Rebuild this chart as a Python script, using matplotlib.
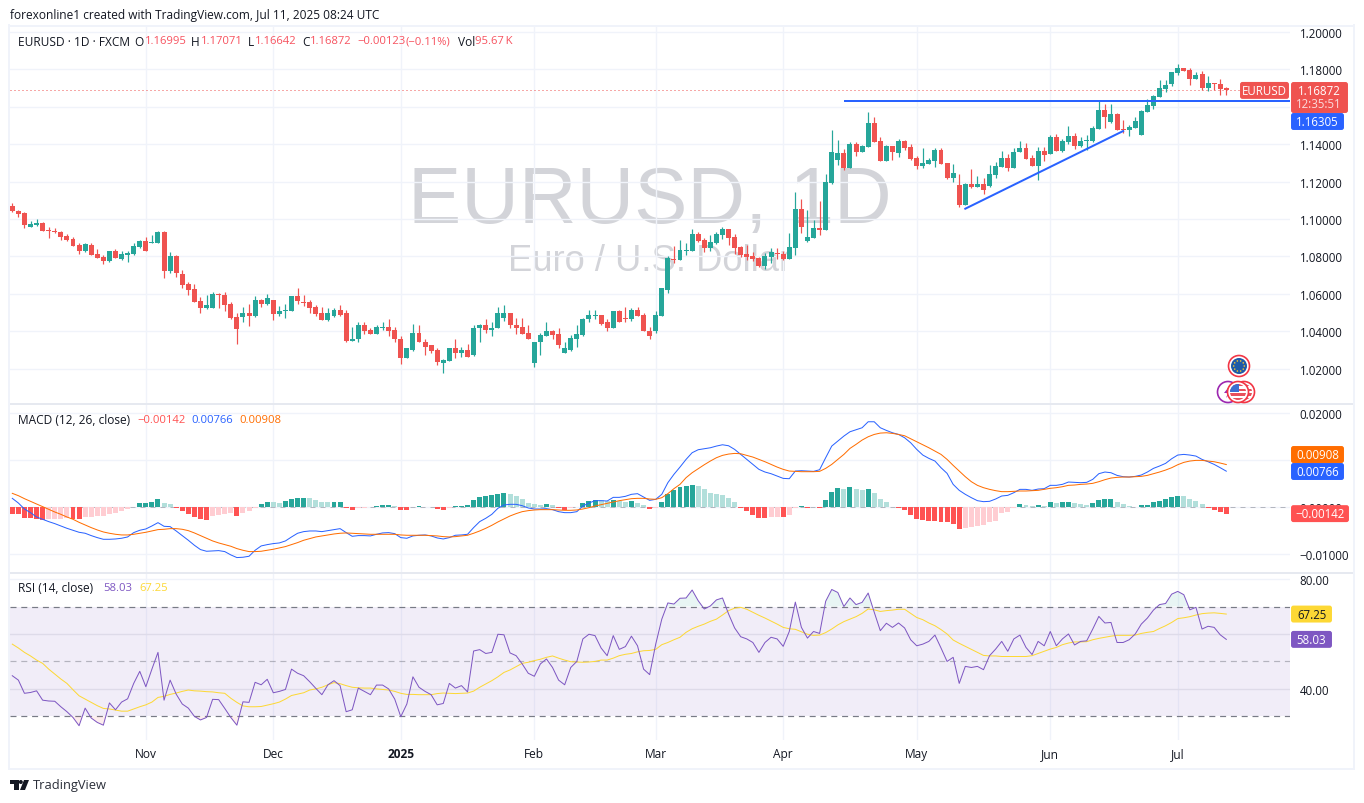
import numpy as np
import matplotlib
matplotlib.use("Agg")
import matplotlib.pyplot as plt
from matplotlib.patches import Circle, FancyBboxPatch, Polygon, Rectangle

plt.rcParams['font.family'] = ['Open Sans', 'DejaVu Sans']

# ---------- data ----------
month_idx = [22, 43, 64, 86, 106, 127, 149, 171, 192]
month_lbl = ['Nov', 'Dec', '2025', 'Feb', 'Mar', 'Apr', 'May', 'Jun', 'Jul']
price_ticks = [1.02, 1.04, 1.06, 1.08, 1.10, 1.12, 1.14, 1.16, 1.18, 1.20]

direction = ("RRRGGRRRRR" "RRGRRRGRGG" "GGRGGRGRRR" "RRGGRRRRGR" "GRGRGGGRRR"
             "RRGGRRGGRR" "GGRRRGGRRR" "RGGRGRGGRG" "GGRRRRGGGR" "RGGGGGGRRG"
             "RRGRRRGGGR" "GGGRRGGGRR" "RRRRGGRRGG" "RGGRGGGRGR" "GGRRGRGRRR"
             "GGGRRGRGRG" "RGGGRGGRRG" "RGRGGRGGGG" "RGRRGGGGGG" "GGGRRGRGRR" "R")

highs = [
1.1087,1.1048,1.1039,1.0991,1.1002,1.0986,1.0959,1.0954,1.0938,1.0922,
1.0905,1.0873,1.0873,1.0873,1.0841,1.0809,1.0831,1.0841,1.0831,1.0831,
1.0873,1.0889,1.0905,1.0916,1.0938,1.0938,1.0825,1.0809,1.0729,1.0665,
1.0654,1.0585,1.0595,1.0611,1.0606,1.0611,1.0558,1.0499,1.0531,1.0547,
1.0590,1.0574,1.0601,1.0569,1.0536,1.0547,1.0590,1.0633,1.0595,1.0569,
1.0542,1.0531,1.0526,1.0526,1.0538,1.0516,1.0425,1.0452,1.0447,1.0415,
1.0436,1.0447,1.0463,1.0425,1.0377,1.0313,1.0441,1.0436,1.0361,1.0324,
1.0313,1.0254,1.0313,1.0356,1.0318,1.0334,1.0436,1.0441,1.0463,1.0447,
1.0527,1.0538,1.0495,1.0473,1.0473,1.0436,1.0345,1.0393,1.0447,1.0409,
1.0415,1.0340,1.0382,1.0436,1.0473,1.0516,1.0511,1.0489,1.0463,1.0506,
1.0511,1.0532,1.0522,1.0532,1.0495,1.0425,1.0506,1.0629,1.0800,1.0857,
1.0889,1.0873,1.0948,1.0932,1.0900,1.0916,1.0932,1.0959,1.0948,1.0922,
1.0857,1.0863,1.0825,1.0799,1.0820,1.0847,1.0847,1.0831,1.0927,1.1146,
1.1109,1.1050,1.0996,1.1098,1.1242,1.1478,1.1424,1.1376,1.1414,1.1414,
1.1398,1.1574,1.1547,1.1440,1.1398,1.1392,1.1430,1.1424,1.1403,1.1339,
1.1382,1.1328,1.1382,1.1382,1.1301,1.1296,1.1240,1.1192,1.1267,1.1229,
1.1219,1.1288,1.1304,1.1363,1.1347,1.1379,1.1417,1.1406,1.1342,1.1385,
1.1385,1.1449,1.1454,1.1427,1.1497,1.1459,1.1438,1.1449,1.1497,1.1631,
1.1615,1.1615,1.1566,1.1529,1.1502,1.1545,1.1582,1.1641,1.1663,1.1743,
1.1743,1.1786,1.1829,1.1807,1.1807,1.1786,1.1791,1.1764,1.1727,1.1748,
1.17071]

body_high = [
1.1071,1.1045,1.1034,1.0975,1.0980,1.0980,1.0943,1.0938,1.0932,1.0911,
1.0895,1.0863,1.0868,1.0863,1.0815,1.0799,1.0831,1.0831,1.0815,1.0820,
1.0857,1.0884,1.0884,1.0879,1.0932,1.0932,1.0804,1.0804,1.0708,1.0654,
1.0627,1.0563,1.0542,1.0601,1.0601,1.0595,1.0547,1.0478,1.0499,1.0499,
1.0569,1.0569,1.0579,1.0569,1.0510,1.0515,1.0590,1.0590,1.0558,1.0558,
1.0531,1.0499,1.0499,1.0515,1.0516,1.0495,1.0361,1.0431,1.0431,1.0409,
1.0425,1.0425,1.0425,1.0409,1.0361,1.0313,1.0393,1.0393,1.0345,1.0324,
1.0302,1.0249,1.0313,1.0313,1.0302,1.0302,1.0420,1.0431,1.0431,1.0420,
1.0495,1.0495,1.0495,1.0436,1.0425,1.0393,1.0345,1.0382,1.0404,1.0404,
1.0388,1.0308,1.0366,1.0388,1.0468,1.0489,1.0489,1.0489,1.0447,1.0506,
1.0506,1.0473,1.0516,1.0516,1.0489,1.0404,1.0489,1.0629,1.0789,1.0788,
1.0836,1.0836,1.0922,1.0922,1.0889,1.0879,1.0922,1.0948,1.0948,1.0905,
1.0852,1.0815,1.0804,1.0793,1.0804,1.0825,1.0820,1.0815,1.0852,1.1055,
1.1055,1.0905,1.0954,1.0954,1.1200,1.1360,1.1355,1.1355,1.1403,1.1403,
1.1392,1.1515,1.1515,1.1419,1.1392,1.1392,1.1419,1.1419,1.1387,1.1328,
1.1301,1.1317,1.1371,1.1371,1.1301,1.1248,1.1181,1.1187,1.1187,1.1187,
1.1187,1.1240,1.1283,1.1326,1.1326,1.1358,1.1379,1.1379,1.1326,1.1363,
1.1363,1.1438,1.1438,1.1417,1.1443,1.1443,1.1417,1.1422,1.1486,1.1582,
1.1582,1.1561,1.1561,1.1481,1.1492,1.1524,1.1577,1.1609,1.1657,1.1700,
1.1716,1.1786,1.1807,1.1807,1.1796,1.1770,1.1775,1.1727,1.1727,1.1722,
1.16995]

body_low = [
1.1041,1.1029,1.0970,1.0959,1.0970,1.0938,1.0938,1.0932,1.0905,1.0889,
1.0857,1.0831,1.0831,1.0809,1.0793,1.0777,1.0777,1.0793,1.0788,1.0809,
1.0815,1.0852,1.0831,1.0873,1.0873,1.0724,1.0724,1.0713,1.0649,1.0622,
1.0558,1.0526,1.0526,1.0526,1.0595,1.0542,1.0472,1.0413,1.0478,1.0483,
1.0483,1.0547,1.0547,1.0494,1.0494,1.0510,1.0510,1.0563,1.0553,1.0526,
1.0494,1.0462,1.0462,1.0483,1.0489,1.0350,1.0350,1.0356,1.0404,1.0388,
1.0388,1.0420,1.0404,1.0356,1.0259,1.0259,1.0302,1.0340,1.0318,1.0297,
1.0238,1.0233,1.0243,1.0286,1.0286,1.0265,1.0275,1.0415,1.0409,1.0409,
1.0415,1.0473,1.0431,1.0420,1.0388,1.0356,1.0233,1.0340,1.0377,1.0382,
1.0324,1.0286,1.0302,1.0361,1.0382,1.0463,1.0484,1.0441,1.0420,1.0420,
1.0452,1.0468,1.0468,1.0484,1.0399,1.0372,1.0399,1.0484,1.0623,1.0782,
1.0782,1.0831,1.0831,1.0884,1.0847,1.0847,1.0873,1.0916,1.0900,1.0847,
1.0809,1.0799,1.0788,1.0750,1.0750,1.0799,1.0815,1.0788,1.0788,1.0847,
1.0959,1.0884,1.0900,1.0943,1.0943,1.1194,1.1317,1.1275,1.1275,1.1360,
1.1360,1.1387,1.1414,1.1312,1.1312,1.1360,1.1355,1.1382,1.1323,1.1285,
1.1285,1.1296,1.1312,1.1296,1.1221,1.1221,1.1074,1.1074,1.1171,1.1171,
1.1155,1.1176,1.1235,1.1278,1.1272,1.1272,1.1358,1.1320,1.1283,1.1283,
1.1342,1.1347,1.1363,1.1363,1.1411,1.1390,1.1390,1.1417,1.1417,1.1481,
1.1545,1.1518,1.1475,1.1475,1.1475,1.1486,1.1449,1.1572,1.1604,1.1652,
1.1695,1.1722,1.1780,1.1791,1.1748,1.1748,1.1700,1.1700,1.1722,1.1695,
1.16872]

lows = [
1.1036,1.1012,1.0954,1.0959,1.0964,1.0938,1.0900,1.0927,1.0889,1.0884,
1.0857,1.0815,1.0825,1.0809,1.0793,1.0761,1.0772,1.0793,1.0782,1.0772,
1.0809,1.0847,1.0831,1.0873,1.0873,1.0686,1.0713,1.0692,1.0633,1.0595,
1.0558,1.0499,1.0520,1.0526,1.0526,1.0510,1.0467,1.0333,1.0451,1.0429,
1.0478,1.0531,1.0542,1.0462,1.0483,1.0472,1.0510,1.0547,1.0536,1.0499,
1.0483,1.0462,1.0456,1.0478,1.0484,1.0345,1.0350,1.0345,1.0388,1.0388,
1.0388,1.0409,1.0377,1.0345,1.0227,1.0259,1.0297,1.0340,1.0275,1.0286,
1.0217,1.0179,1.0243,1.0259,1.0265,1.0265,1.0270,1.0345,1.0393,1.0377,
1.0415,1.0457,1.0415,1.0388,1.0388,1.0356,1.0211,1.0275,1.0372,1.0356,
1.0308,1.0286,1.0297,1.0318,1.0377,1.0452,1.0468,1.0436,1.0404,1.0420,
1.0452,1.0452,1.0457,1.0479,1.0399,1.0361,1.0393,1.0479,1.0607,1.0766,
1.0782,1.0809,1.0831,1.0879,1.0825,1.0831,1.0868,1.0895,1.0863,1.0815,
1.0799,1.0782,1.0777,1.0745,1.0734,1.0766,1.0788,1.0782,1.0788,1.0809,
1.0927,1.0879,1.0900,1.0916,1.0943,1.1189,1.1291,1.1264,1.1275,1.1339,
1.1360,1.1387,1.1414,1.1312,1.1312,1.1317,1.1333,1.1371,1.1317,1.1269,
1.1275,1.1296,1.1280,1.1296,1.1216,1.1200,1.1064,1.1074,1.1165,1.1171,
1.1133,1.1171,1.1219,1.1278,1.1256,1.1272,1.1358,1.1320,1.1283,1.1208,
1.1310,1.1347,1.1363,1.1358,1.1401,1.1374,1.1385,1.1369,1.1411,1.1481,
1.1486,1.1513,1.1475,1.1459,1.1443,1.1486,1.1449,1.1572,1.1588,1.1652,
1.1679,1.1711,1.1770,1.1791,1.1716,1.1748,1.1689,1.1684,1.1689,1.1663,
1.16642]

macd_e5 = [
185,85,-43,-121,-214,-263,-313,-356,-406,-456,
-498,-541,-562,-612,-655,-691,-691,-684,-669,-641,
-548,-498,-470,-406,-335,-413,-420,-513,-612,-712,
-819,-911,-947,-940,-933,-954,-1025,-1082,-1075,-1054,
-926,-833,-805,-783,-769,-726,-641,-562,-527,-513,
-513,-527,-506,-484,-463,-548,-627,-612,-612,-619,
-584,-555,-548,-570,-655,-669,-619,-605,-598,-619,
-662,-684,-655,-605,-598,-584,-441,-313,-242,-157,
-28,43,57,57,28,-21,-43,-43,-36,-57,
-100,-121,-121,-100,21,85,135,135,128,206,
206,228,271,285,214,142,164,271,520,698,
854,1018,1161,1225,1246,1267,1303,1331,1310,1232,
1125,1018,911,805,748,712,662,612,605,769,
776,769,762,797,1054,1303,1410,1517,1609,1652,
1695,1823,1823,1695,1638,1588,1552,1481,1374,1232,
1111,1040,983,840,719,484,356,271,199,135,
114,121,171,235,249,306,377,377,356,384,
392,463,463,484,534,527,520,527,591,712,
748,733,676,648,641,655,684,748,826,876,
933,1032,1111,1125,1111,1089,1018,968,911,840,
766]

signal_e5 = [
292,242,178,121,64,7,-50,-107,-157,-214,
-263,-328,-384,-441,-491,-534,-562,-584,-598,-598,
-584,-562,-541,-513,-484,-477,-463,-463,-477,-506,
-555,-612,-669,-726,-769,-805,-840,-890,-926,-954,
-954,-947,-926,-904,-876,-847,-805,-762,-712,-676,
-641,-619,-598,-577,-562,-555,-562,-570,-577,-584,
-584,-584,-584,-584,-598,-605,-605,-605,-605,-612,
-619,-634,-641,-634,-619,-605,-562,-513,-456,-392,
-320,-256,-192,-142,-100,-78,-64,-57,-57,-57,
-64,-71,-71,-64,-43,-14,21,50,78,107,
135,157,178,185,185,171,164,199,285,392,
484,627,733,819,904,983,1054,1104,1132,1146,
1139,1104,1068,1018,968,911,854,805,769,762,
755,755,755,762,826,911,1018,1125,1253,1339,
1431,1502,1552,1581,1588,1574,1552,1524,1460,1396,
1331,1267,1196,1125,1018,890,769,648,541,463,
413,377,349,328,328,335,342,342,349,356,
377,399,413,434,463,470,484,491,506,541,
584,619,634,641,641,648,655,676,712,748,
790,840,904,954,983,997,997,983,968,940,
908]

hist_e5 = [
-142,-157,-228,-242,-256,-271,-263,-256,-249,-242,
-249,-256,-214,-206,-199,-192,-142,-135,-85,-50,
7,78,85,114,164,78,57,-28,-85,-142,
-214,-263,-271,-199,-171,-142,-135,-192,-121,-85,
-28,57,114,100,93,121,164,185,192,185,
142,107,100,107,114,-21,-57,-28,-14,-7,
21,36,43,21,-64,-71,-7,14,7,0,
-50,-71,-14,14,28,36,142,221,235,256,
285,306,271,235,164,93,57,36,57,36,
-14,-64,-28,0,85,128,150,142,135,142,
128,114,128,93,43,-50,-28,100,285,356,
427,449,463,441,377,306,285,256,185,107,
-28,-93,-171,-228,-242,-214,-206,-214,-171,-21,
14,-21,0,-28,142,328,413,392,420,392,
363,377,306,164,100,7,-28,-71,-171,-249,
-285,-299,-306,-313,-328,-370,-477,-456,-427,-406,
-384,-313,-299,-121,-100,-28,57,50,21,36,
28,100,85,100,107,78,57,50,78,142,
164,171,100,57,14,-7,36,43,100,128,
164,214,235,228,164,128,57,-28,-71,-100,
-142]

rsi_values = [
44.8,43.2,38.4,38.7,39.3,35.9,35.6,35.5,33.5,31.7,
29.6,26.6,33.0,29.4,27.8,26.8,34.9,32.4,35.2,36.4,
42.0,46.4,40.8,47.2,53.3,35.9,43.2,38.1,34.5,33.0,
30.0,28.7,29.6,36.2,36.1,32.9,29.6,26.8,35.3,35.1,
42.4,41.5,43.5,38.6,39.1,39.8,47.2,45.7,44.8,42.6,
40.2,37.9,41.5,43.0,41.2,31.7,32.4,40.3,39.1,37.9,
41.4,41.4,40.0,36.3,29.9,34.5,44.4,40.6,39.1,37.9,
34.2,34.7,42.0,40.3,41.2,38.9,53.8,54.3,52.9,53.3,
59.9,59.7,53.1,52.1,49.1,45.7,44.6,49.1,50.9,47.8,
43.2,41.5,47.8,50.0,58.2,59.9,59.4,54.9,52.1,59.4,
54.4,55.4,59.2,55.7,47.2,45.2,56.3,65.4,71.3,70.9,
73.0,73.1,76.0,72.1,69.1,70.2,72.4,73.1,67.3,62.2,
59.0,58.2,56.9,53.3,56.9,58.8,58.2,55.5,60.9,71.6,
62.4,58.5,60.9,60.2,71.9,76.2,75.1,70.0,73.1,70.7,
71.5,74.9,67.9,61.2,63.9,62.4,64.0,62.2,57.9,55.7,
56.3,57.3,59.6,54.9,50.0,51.5,42.0,48.2,47.8,48.2,
47.0,52.1,54.5,57.3,53.7,58.2,59.6,55.1,52.5,57.3,
55.7,60.9,55.7,58.2,60.0,56.0,57.3,57.5,61.8,66.4,
64.0,64.2,56.9,56.9,57.9,60.0,63.6,65.8,68.7,70.7,
71.1,74.5,75.5,74.3,68.8,69.7,61.8,62.8,62.4,59.7,
58.03]

rsi_ma_values = [
56.3,54.9,53.3,52.0,50.5,49.3,47.2,45.4,43.6,42.0,
39.7,37.5,36.3,35.1,33.9,32.9,32.7,32.3,31.9,31.9,
32.7,33.5,34.2,35.2,36.9,37.3,38.0,38.5,39.1,39.6,
39.3,39.2,39.0,38.9,38.6,38.4,36.6,35.1,33.8,33.5,
33.5,33.6,34.1,34.6,35.2,36.3,37.6,38.1,38.6,39.6,
40.0,40.6,41.5,42.3,41.9,41.2,40.6,40.4,40.3,40.3,
40.0,39.8,39.6,39.1,38.4,38.0,38.0,37.9,37.9,37.9,
38.3,38.5,38.4,38.3,38.4,38.5,39.2,40.6,41.8,43.0,
44.4,46.0,46.9,48.1,49.3,49.7,50.3,50.8,51.5,52.0,
51.2,50.5,49.9,49.8,49.7,49.8,50.0,50.5,50.5,51.2,
52.1,52.6,52.9,53.5,53.9,54.0,54.4,56.1,56.9,57.9,
58.8,60.6,61.9,62.8,63.6,64.6,65.4,66.9,68.5,69.4,
69.7,69.0,67.9,66.8,65.8,64.7,63.6,62.4,61.9,61.7,
60.8,59.9,59.5,59.6,60.5,61.8,63.3,64.5,65.4,66.3,
67.5,69.1,68.8,68.2,68.5,68.7,69.0,69.0,67.5,66.0,
65.2,64.0,63.0,61.6,60.0,57.8,56.6,55.5,54.4,53.3,
52.2,52.0,52.0,51.8,51.8,51.8,51.8,51.8,52.1,52.9,
53.7,54.5,55.1,56.1,56.7,57.1,57.1,57.2,57.9,58.4,
58.8,59.2,59.5,59.5,59.5,59.6,60.2,60.6,60.9,62.0,
63.0,64.2,65.6,65.9,66.3,66.9,67.4,67.6,67.7,67.5,
67.25]

support_level = 1.16305
support_start = 137
trend_idx = [157, 183]
trend_price = [1.1055, 1.1470]
last_close = 1.16872

# ---------- colours ----------
UP, DOWN = '#26a69a', '#ef5350'
BLUE, ORANGE = '#2962ff', '#ff6d00'
PURPLE, YELLOW = '#7e57c2', '#fdd835'
GRID, FRAME, TXT = '#f0f3fa', '#e6e9f0', '#131722'
RED_TXT = '#f7525f'
PX = 0.72  # one pixel in points at this dpi

# ---------- layout in pixels ----------
W, H = 1364, 804
fig = plt.figure(figsize=(W / 100, H / 100), dpi=100, facecolor='white')


def pane(top, bottom, left=10, right=1290):
    return fig.add_axes([left / W, 1 - bottom / H, (right - left) / W, (bottom - top) / H])


ax_p = pane(27, 405)
ax_m = pane(405, 574)
ax_r = pane(574, 741)

X0, DX = 12.3, 6.07
xlim = ((10 - X0) / DX, (1290 - X0) / DX)
x = np.arange(len(highs))
for a in (ax_p, ax_m, ax_r):
    a.set_xlim(*xlim)
    a.set_xticks(month_idx)
    a.grid(True, color=GRID, lw=1.4 * PX)
    a.set_axisbelow(True)
    a.yaxis.tick_right()
    a.tick_params(axis='y', length=0, pad=7, labelsize=8.3, labelcolor=TXT)
    a.tick_params(axis='x', length=0, labelbottom=False)
    for s in a.spines.values():
        s.set_visible(False)
    a.patch.set_alpha(0)

# ---------- price pane ----------
ax_p.set_ylim(1.00112, 1.20315)
ax_p.set_yticks(price_ticks)
ax_p.set_yticklabels(['' if t == 1.16 else f'{t:.5f}' for t in price_ticks])
ax_p.text(0.5, 0.537, 'EURUSD, 1D', transform=ax_p.transAxes, ha='center', va='center',
          fontsize=57.5, color='#d3d4d9', family='Liberation Sans', zorder=0.5)
ax_p.text(0.5, 0.379, 'Euro / U.S. Dollar', transform=ax_p.transAxes, ha='center', va='center',
          fontsize=26.2, color='#d3d4d9', family='Liberation Sans', zorder=0.5)

is_up = np.array([d == 'G' for d in direction])
cols = np.where(is_up, UP, DOWN)
ax_p.vlines(x, lows, highs, colors=cols, lw=1.2 * PX, zorder=3)
b_hi, b_lo = np.array(body_high), np.array(body_low)
ax_p.bar(x, np.maximum(b_hi - b_lo, 0.00012), bottom=b_lo, width=0.82, color=cols, lw=0, zorder=3)

ax_p.axhline(last_close, xmax=(1240 - 10) / 1280, color=DOWN, lw=PX, ls=(0, (1, 3)), zorder=2)
ax_p.plot([support_start, xlim[1]], [support_level, support_level], color=BLUE, lw=2 * PX, zorder=4,
          solid_capstyle='butt')
ax_p.plot(trend_idx, trend_price, color=BLUE, lw=2 * PX, zorder=4)

# ---------- MACD pane ----------
ax_m.set_ylim(-0.01412, 0.02203)
ax_m.set_yticks([-0.01, 0, 0.01, 0.02])
ax_m.set_yticklabels(['\u22120.01000', '0.00000', '', '0.02000'])
macd = np.array(macd_e5) / 1e5
signal = np.array(signal_e5) / 1e5
hist = np.array(hist_e5) / 1e5
prev = np.r_[hist[0] + 1e-5, hist[:-1]]
hcols = np.where(hist >= 0, np.where(hist > prev, '#26a69a', '#b2dfdb'),
                 np.where(hist > prev, '#ffcdd2', '#ff5252'))
ax_m.bar(x, hist, width=0.82, color=hcols, lw=0, zorder=2)
ax_m.axhline(0, color='#787b86', lw=PX, ls=(0, (5, 5)), alpha=0.5, zorder=1.5)
ax_m.plot(x, macd, color=BLUE, lw=PX, zorder=3)
ax_m.plot(x, signal, color=ORANGE, lw=PX, zorder=3)

# ---------- RSI pane ----------
ax_r.set_ylim(21.4, 82.2)
ax_r.set_yticks([40, 60, 80])
ax_r.set_yticklabels(['40.00', '60.00', '80.00'])
ax_r.axhspan(30, 70, color=PURPLE, alpha=0.1, lw=0, zorder=1)
ax_r.grid(False)
ax_r.grid(True, axis='x', color=GRID, lw=1.4 * PX)
for lev in (40, 60, 80):
    ax_r.axhline(lev, color='#dedbe9' if lev < 70 else GRID, lw=1.4 * PX, zorder=1.2)
for lev, al in ((70, 1), (50, 0.5), (30, 1)):
    ax_r.axhline(lev, color='#787b86', lw=1.2 * PX, ls=(0, (5, 4)), alpha=al, zorder=1.5)
rsi = np.array(rsi_values)
ax_r.fill_between(x, 70, rsi, where=rsi >= 70, interpolate=True, color=UP, alpha=0.1, lw=0, zorder=1.6)
ax_r.fill_between(x, 30, rsi, where=rsi <= 30, interpolate=True, color=DOWN, alpha=0.1, lw=0, zorder=1.6)
ax_r.plot(x, rsi_ma_values, color=YELLOW, lw=PX, zorder=3)
ax_r.plot(x, rsi, color=PURPLE, lw=PX, zorder=4)

# ---------- overlay in pixel coordinates: frame, labels, tags ----------
ov = fig.add_axes([0, 0, 1, 1], zorder=20)
ov.set_xlim(0, W)
ov.set_ylim(H, 0)
ov.axis('off')
ov.patch.set_alpha(0)

for yy, c in ((26.5, GRID), (405, FRAME), (574, FRAME), (769.5, GRID)):
    ov.plot([9, 1354], [yy, yy], color=c, lw=2 * PX, zorder=1)
for xx in (9, 1354):
    ov.plot([xx, xx], [26, 770], color=GRID, lw=2 * PX, zorder=1)


def label(px, py, s, color=TXT, size=8.3, **kw):
    return ov.text(px, py, s, color=color, fontsize=size, va='center', ha=kw.pop('ha', 'left'), **kw)


def y_px(ax, value):
    return H - ax.transData.transform((0, value))[1]


def x_px(idx):
    return X0 + DX * idx


def tag(x0, x1, yc, h, s, color, tc='white', size=8.3):
    ov.add_patch(FancyBboxPatch((x0 + 1, yc - h / 2 + 1), x1 - x0 - 2, h - 2,
                                boxstyle='round,pad=0,rounding_size=1.5', mutation_aspect=1,
                                fc=color, ec=color, lw=1.4, zorder=5))
    label((x0 + x1) / 2, yc, s, color=tc, size=size, ha='center', zorder=6)


label(10, 15, 'forexonline1 created with TradingView.com, Jul 11, 2025 08:24 UTC', size=8.6)

label(18, 42, 'EURUSD \u00b7 1D \u00b7 FXCM', size=8.6)
for px, s in ((134, 'O'), (191, 'H'), (248, 'L'), (302, 'C'), (458, 'Vol')):
    label(px, 42, s, size=8.6)
for px, s in ((145, '1.16995'), (201, '1.17071'), (255, '1.16642'), (310, '1.16872'),
              (357, '\u22120.00123'), (405, '(\u22120.11%)'), (475, '95.67\u2009K')):
    label(px, 42, s, color=RED_TXT, size=8.1)

label(18, 421, 'MACD (12, 26, close)', size=8.6)
label(137, 421, '\u22120.00142', color='#ff5252', size=8.1)
label(191, 421, '0.00766', color=BLUE, size=8.1)
label(239, 421, '0.00908', color=ORANGE, size=8.1)

label(18, 589, 'RSI (14, close)', size=8.6)
label(103, 589, '58.03', color=PURPLE, size=8.1)
label(139, 589, '67.25', color=YELLOW, size=8.1)

for i, s in zip(month_idx, month_lbl):
    label(x_px(i), 755, s, ha='center', size=8.6, fontweight='bold' if s == '2025' else 'normal')

# price tags
yc = y_px(ax_p, last_close)
tag(1240, 1289, yc, 17, 'EURUSD', DOWN)
ov.add_patch(FancyBboxPatch((1292, 84), 55, 29, boxstyle='round,pad=0,rounding_size=1.5',
                            fc=DOWN, ec=DOWN, lw=1.4, zorder=5))
label(1319, yc, '1.16872', color='white', ha='center', zorder=6)
label(1319, 105, '12:35:51', color='#fbdcdc', ha='center', zorder=6)
tag(1291, 1344, 122.5, 17, '1.16305', BLUE)

tag(1291, 1344, 455.5, 17, '0.00908', ORANGE)
tag(1291, 1344, 472.5, 17, '0.00766', BLUE)
tag(1291, 1349, y_px(ax_m, -0.00142), 17, '\u22120.00142', '#ff5252')
tag(1291, 1332, y_px(ax_r, 67.25), 17, '67.25', YELLOW, tc=TXT)
tag(1291, 1332, y_px(ax_r, 58.03), 17, '58.03', PURPLE)

# event icons
ring = '#f23645'
ov.add_patch(Circle((1239, 367), 10.5, fc='white', ec=ring, lw=1.2, zorder=7))
ov.add_patch(Circle((1239, 367), 8, fc='#1e5aa8', ec='none', zorder=8))
for a in np.linspace(0, 2 * np.pi, 10, endpoint=False):
    ov.add_patch(Circle((1239 + 5.3 * np.cos(a), 367 + 5.3 * np.sin(a)), 0.8, fc='#f4c430', ec='none', zorder=9))

ov.add_patch(Circle((1228, 393), 10.5, fc='white', ec='#9c27b0', lw=1.2, zorder=7))
ov.add_patch(Polygon([(1229.5, 387), (1224, 394), (1228, 394), (1226, 399), (1232, 392), (1228, 392)],
                     fc='#9c27b0', ec='none', zorder=7.5))


def us_flag(cx, cy, z):
    ov.add_patch(Circle((cx, cy), 10.5, fc='white', ec=ring, lw=1.2, zorder=z))
    disc = Circle((cx, cy), 8, transform=ov.transData, fc='white', ec='none', zorder=z + 0.1)
    ov.add_patch(disc)
    for k in range(4):
        r = Rectangle((cx - 8, cy - 8 + k * 4.6), 16, 2.3, fc='#e8505b', ec='none', zorder=z + 0.2)
        ov.add_patch(r)
        r.set_clip_path(disc)
    r = Rectangle((cx - 8, cy - 8), 8.5, 8, fc='#3c6fd1', ec='none', zorder=z + 0.3)
    ov.add_patch(r)
    r.set_clip_path(disc)


us_flag(1244, 393, 8)
us_flag(1238, 393, 9)

# TradingView logo
ov.add_patch(Polygon([(10, 781), (18.5, 781), (18.5, 791), (14, 791), (14, 785), (10, 785)], fc=TXT, ec='none'))
ov.add_patch(Circle((20.8, 783), 2, fc=TXT, ec='none'))
ov.add_patch(Polygon([(24, 781), (29, 781), (25, 791), (20, 791)], fc=TXT, ec='none'))
label(33, 786, 'TradingView', size=9.3, color='#2a2e39')

fig.savefig('out.png', dpi=100, facecolor='white')
